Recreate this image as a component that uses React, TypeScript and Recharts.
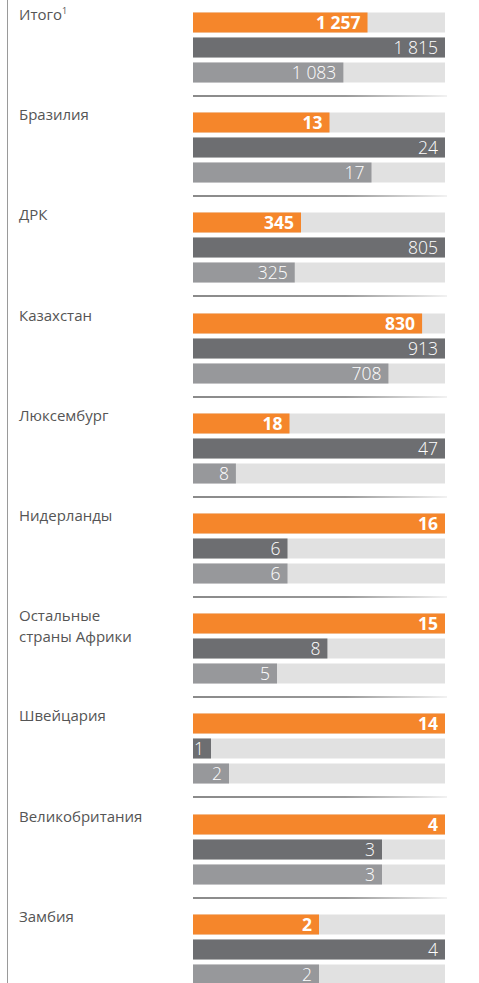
import React from 'react';
import { BarChart, Bar, XAxis, YAxis, Cell, LabelList } from 'recharts';

const countries = [
  'Итого',
  'Бразилия',
  'ДРК',
  'Казахстан',
  'Люксембург',
  'Нидерланды',
  'Остальные\nстраны Африки',
  'Швейцария',
  'Великобритания',
  'Замбия',
];
const seriesA = [1257, 13, 345, 830, 18, 16, 15, 14, 4, 2];
const seriesB = [1815, 24, 805, 913, 47, 6, 8, 1, 3, 4];
const seriesC = [1083, 17, 325, 708, 8, 6, 5, 2, 3, 2];

const colors = ['#f5862b', '#6d6e71', '#97989b'];
const font = '"Open Sans", sans-serif';

const fmt = (v: number) => String(v).replace(/\B(?=(\d{3})+(?!\d))/g, ' ');

const ValueLabel = (props: any) => {
  const { x, y, width, height, value, index } = props;
  return (
    <text
      x={x + width - 7}
      y={y + height / 2}
      dy="0.36em"
      textAnchor="end"
      fill="#fff"
      fontFamily={font}
      fontSize={17.5}
      fontWeight={index === 0 ? 700 : 300}
    >
      {fmt(value)}
    </text>
  );
};

function Group({ i }: { i: number }) {
  const data = [
    { k: 'a', v: seriesA[i] },
    { k: 'b', v: seriesB[i] },
    { k: 'c', v: seriesC[i] },
  ];
  return (
    <BarChart
      width={479}
      height={100}
      data={data}
      layout="vertical"
      margin={{ top: 9.5, right: 34, bottom: 15.5, left: 193 }}
      barSize={20}
    >
      <XAxis type="number" domain={[0, 'dataMax']} hide />
      <YAxis type="category" dataKey="k" hide />
      <Bar dataKey="v" background={{ fill: '#e1e1e1' }} isAnimationActive={false}>
        {data.map((d, j) => (
          <Cell key={d.k} fill={colors[j]} />
        ))}
        <LabelList dataKey="v" content={ValueLabel} />
      </Bar>
    </BarChart>
  );
}

export default function App() {
  return (
    <div
      style={{
        position: 'absolute',
        left: 0,
        top: 0,
        width: 479,
        height: 983,
        background: '#fff',
        overflow: 'hidden',
        fontFamily: font,
      }}
    >
      <div style={{ position: 'absolute', left: 7, top: 0, width: 1, height: 983, background: '#9a9a9a' }} />
      {countries.map((c, i) => (
        <div key={c} style={{ position: 'absolute', left: 0, top: i * 100.2, width: 479, height: 100 }}>
          <div
            style={{
              position: 'absolute',
              left: 19,
              top: 4,
              width: 160,
              fontSize: 15,
              lineHeight: '21px',
              color: '#555',
              whiteSpace: 'pre-line',
            }}
          >
            {c}
            {i === 0 && <sup style={{ fontSize: 9, verticalAlign: 'top', lineHeight: '14px' }}>1</sup>}
          </div>
          <div style={{ position: 'absolute', left: 0, top: 0 }}>
            <Group i={i} />
          </div>
          {i < countries.length - 1 && (
            <div
              style={{
                position: 'absolute',
                left: 193,
                top: 95,
                width: 254,
                height: 2,
                background: 'linear-gradient(to right, #8a8a8a, #9a9a9a 60%, #f2f2f2)',
              }}
            />
          )}
        </div>
      ))}
    </div>
  );
}
